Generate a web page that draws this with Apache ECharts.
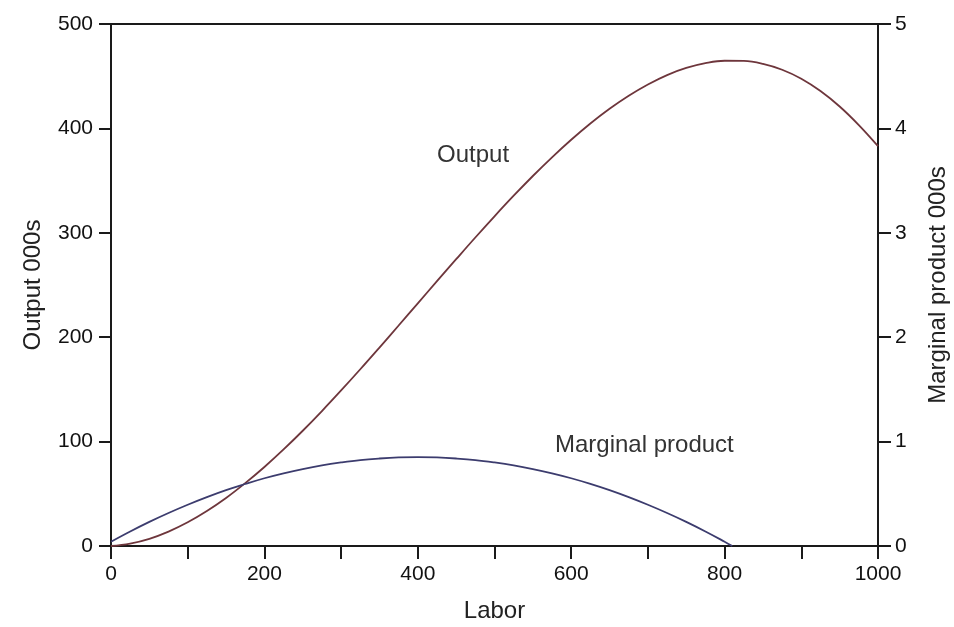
<!DOCTYPE html>
<html>
<head>
<meta charset="utf-8">
<script src="https://cdn.jsdelivr.net/npm/echarts@6/dist/echarts.min.js"></script>
<style>
html,body{margin:0;padding:0;background:#fff;}
#chart{width:954px;height:627px;}
</style>
</head>
<body>
<div id="chart"></div>
<script>
// Labor levels (x) for the output curve
var laborOutput = [0,25,50,75,100,125,150,175,200,225,250,275,300,325,350,375,400,425,450,475,500,525,550,575,600,625,650,675,700,725,750,775,800,825,850,875,900,925,950,975,1000];
// Output, 000s (left axis)
var outputValues = [0,2.3,6.9,13.8,22.7,33.5,46.0,60.2,75.7,92.5,110.4,129.3,149.0,169.3,190.1,211.2,232.4,253.7,274.7,295.5,315.8,335.5,354.4,372.3,389.1,404.7,418.8,431.3,442.1,451.1,457.9,462.5,464.8,464.6,461.8,456.2,447.6,435.8,421.0,403.2,383.0];
// Labor levels for the marginal product curve
var laborMP = [0,25,50,75,100,125,150,175,200,225,250,275,300,325,350,375,400,425,450,475,500,525,550,575,600,625,650,675,700,725,750,775,800,810];
// Marginal product, 000s (right axis)
var mpValues = [0.041,0.139,0.231,0.316,0.395,0.468,0.535,0.594,0.649,0.696,0.737,0.772,0.800,0.823,0.838,0.848,0.851,0.848,0.838,0.823,0.800,0.772,0.737,0.696,0.649,0.595,0.535,0.468,0.395,0.316,0.231,0.139,0.041,0.0];

var leftTicks = [0,100,200,300,400,500];
var rightTicks = [0,1,2,3,4,5];
var xLabelsShown = [0,200,400,600,800,1000];

function pairs(xs, ys){ return xs.map(function(x,i){ return [x, ys[i]]; }); }

var FONT = 'Liberation Sans, Arial, sans-serif';
var AX = '#1a1a1a';
var chart = echarts.init(document.getElementById('chart'), null, {renderer:'canvas'});
chart.setOption({
  backgroundColor:'#ffffff',
  animation:false,
  grid:{left:111, right:76, top:24, bottom:81, containLabel:false, outerBoundsMode:'none',
        show:true, borderColor:AX, borderWidth:2, backgroundColor:'transparent'},
  xAxis:{
    type:'value', min:0, max:1000, interval:100,
    name:'Labor', nameLocation:'middle', nameGap:53,
    nameTextStyle:{fontFamily:FONT, fontSize:24, color:'#222'},
    axisLine:{show:true, lineStyle:{color:AX, width:2}},
    axisTick:{show:true, inside:false, length:13, lineStyle:{color:AX, width:2}},
    splitLine:{show:false},
    axisLabel:{fontFamily:FONT, fontSize:21, color:'#111', margin:18,
      formatter:function(v){ return xLabelsShown.indexOf(v) >= 0 ? String(v) : ''; }}
  },
  yAxis:[{
    type:'value', min:leftTicks[0], max:leftTicks[leftTicks.length-1], interval:100,
    name:'Output 000s', nameLocation:'middle', nameGap:66, nameRotate:90,
    nameTextStyle:{fontFamily:FONT, fontSize:24, color:'#222'},
    axisLine:{show:true, lineStyle:{color:AX, width:2}},
    axisTick:{show:true, length:12, lineStyle:{color:AX, width:2}},
    splitLine:{show:false},
    axisLabel:{fontFamily:FONT, fontSize:21, color:'#111', margin:18}
  },{
    type:'value', min:rightTicks[0], max:rightTicks[rightTicks.length-1], interval:1, position:'right',
    name:'Marginal product 000s', nameLocation:'middle', nameGap:48, nameRotate:90,
    nameTextStyle:{fontFamily:FONT, fontSize:24, color:'#222'},
    axisLine:{show:true, lineStyle:{color:AX, width:2}},
    axisTick:{show:true, length:13, lineStyle:{color:AX, width:2}},
    splitLine:{show:false},
    axisLabel:{fontFamily:FONT, fontSize:21, color:'#111', margin:17}
  }],
  series:[{
    name:'Output', type:'line', yAxisIndex:0, smooth:0.4, showSymbol:false,
    data:pairs(laborOutput, outputValues),
    lineStyle:{color:'#6e363c', width:1.8}
  },{
    name:'Marginal product', type:'line', yAxisIndex:1, smooth:0.4, showSymbol:false,
    data:pairs(laborMP, mpValues),
    lineStyle:{color:'#3c3c6e', width:1.8}
  }],
  graphic:[
    {type:'text', left:437, top:143, style:{text:'Output', fontFamily:FONT, fontSize:24, fill:'#333'}},
    {type:'text', left:555, top:433, style:{text:'Marginal product', fontFamily:FONT, fontSize:24, fill:'#333'}}
  ]
});
</script>
</body>
</html>
